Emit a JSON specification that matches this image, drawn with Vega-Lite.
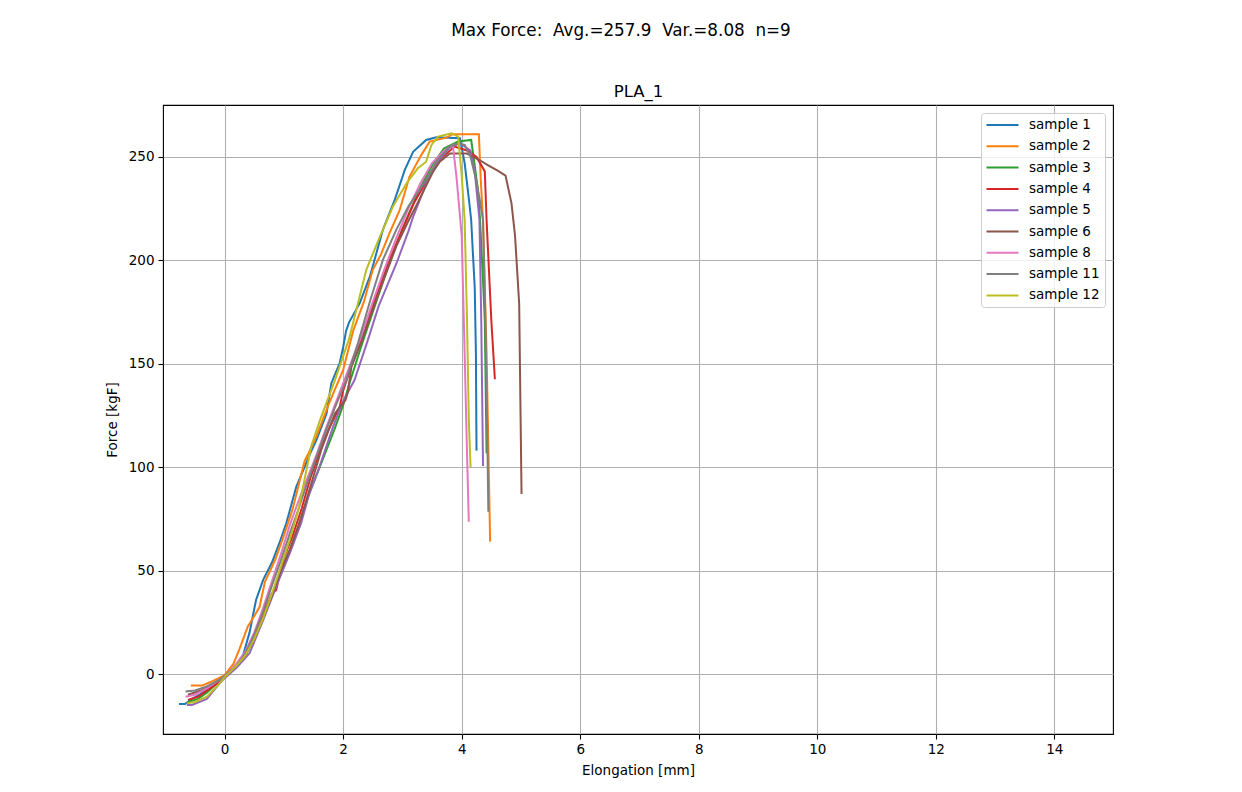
{
  "$schema": "https://vega.github.io/schema/vega-lite/v6.json",
  "width": 950,
  "height": 629,
  "autosize": {"type": "none"},
  "padding": {"left": 163, "top": 105, "right": 129, "bottom": 58},
  "background": "white",
  "config": {
    "font": "DejaVu Sans",
    "view": {"stroke": "black", "strokeWidth": 1.1},
    "axis": {
      "labelFont": "DejaVu Sans", "titleFont": "DejaVu Sans",
      "labelFontSize": 13.5, "titleFontSize": 13.5, "titleFontWeight": "normal",
      "labelColor": "black", "titleColor": "black",
      "tickColor": "black", "tickSize": 5, "tickWidth": 1.1,
      "gridColor": "#b0b0b0", "gridWidth": 1.1, "gridOpacity": 1,
      "domain": false
    }
  },
  "title": {
    "text": "Max Force:\u00a0 Avg.=257.9\u00a0 Var.=8.08\u00a0 n=9",
    "fontSize": 16.8, "font": "DejaVu Sans", "fontWeight": "normal", "color": "black",
    "anchor": "middle", "dx": -17, "offset": 43
  },
  "data": {"values": [
    {"s":"sample 1","x":-0.77,"y":-14.5},{"s":"sample 1","x":-0.67,"y":-14.5},{"s":"sample 1","x":-0.55,"y":-12},{"s":"sample 1","x":-0.42,"y":-10},{"s":"sample 1","x":-0.25,"y":-6},{"s":"sample 1","x":-0.1,"y":-3},{"s":"sample 1","x":0,"y":-1},{"s":"sample 1","x":0.15,"y":3},{"s":"sample 1","x":0.3,"y":8},{"s":"sample 1","x":0.42,"y":20},{"s":"sample 1","x":0.53,"y":35.8},{"s":"sample 1","x":0.65,"y":45.5},{"s":"sample 1","x":0.8,"y":54},{"s":"sample 1","x":0.92,"y":63},{"s":"sample 1","x":1.04,"y":72.9},{"s":"sample 1","x":1.21,"y":90.6},{"s":"sample 1","x":1.35,"y":100.2},{"s":"sample 1","x":1.45,"y":107},{"s":"sample 1","x":1.55,"y":113.2},{"s":"sample 1","x":1.72,"y":126},{"s":"sample 1","x":1.8,"y":140.6},{"s":"sample 1","x":1.94,"y":150.2},{"s":"sample 1","x":2.0,"y":158},{"s":"sample 1","x":2.05,"y":166},{"s":"sample 1","x":2.1,"y":170},{"s":"sample 1","x":2.28,"y":179.3},{"s":"sample 1","x":2.45,"y":192.1},{"s":"sample 1","x":2.67,"y":214.7},{"s":"sample 1","x":2.87,"y":229.2},{"s":"sample 1","x":3.04,"y":243.7},{"s":"sample 1","x":3.18,"y":252.5},{"s":"sample 1","x":3.4,"y":258.2},{"s":"sample 1","x":3.57,"y":259.5},{"s":"sample 1","x":3.97,"y":259},{"s":"sample 1","x":4.05,"y":247},{"s":"sample 1","x":4.12,"y":230},{"s":"sample 1","x":4.16,"y":219.5},{"s":"sample 1","x":4.19,"y":203},{"s":"sample 1","x":4.22,"y":187},{"s":"sample 1","x":4.24,"y":155},{"s":"sample 1","x":4.25,"y":108},
    {"s":"sample 2","x":-0.57,"y":-5.6},{"s":"sample 2","x":-0.38,"y":-5.6},{"s":"sample 2","x":-0.25,"y":-4},{"s":"sample 2","x":-0.1,"y":-2},{"s":"sample 2","x":0,"y":-0.5},{"s":"sample 2","x":0.15,"y":5},{"s":"sample 2","x":0.25,"y":12},{"s":"sample 2","x":0.39,"y":22.9},{"s":"sample 2","x":0.5,"y":28},{"s":"sample 2","x":0.59,"y":32.5},{"s":"sample 2","x":0.68,"y":44.6},{"s":"sample 2","x":0.85,"y":55},{"s":"sample 2","x":1.0,"y":67},{"s":"sample 2","x":1.15,"y":80},{"s":"sample 2","x":1.35,"y":103},{"s":"sample 2","x":1.42,"y":107},{"s":"sample 2","x":1.55,"y":115},{"s":"sample 2","x":1.75,"y":130},{"s":"sample 2","x":2.0,"y":147},{"s":"sample 2","x":2.17,"y":166},{"s":"sample 2","x":2.35,"y":180},{"s":"sample 2","x":2.5,"y":195.4},{"s":"sample 2","x":2.64,"y":203},{"s":"sample 2","x":2.78,"y":213},{"s":"sample 2","x":2.95,"y":224},{"s":"sample 2","x":3.12,"y":240.5},{"s":"sample 2","x":3.32,"y":251},{"s":"sample 2","x":3.46,"y":257.4},{"s":"sample 2","x":3.74,"y":259.3},{"s":"sample 2","x":3.85,"y":261},{"s":"sample 2","x":4.29,"y":261},{"s":"sample 2","x":4.32,"y":240},{"s":"sample 2","x":4.36,"y":219.5},{"s":"sample 2","x":4.42,"y":155},{"s":"sample 2","x":4.48,"y":64},
    {"s":"sample 3","x":-0.62,"y":-13.5},{"s":"sample 3","x":-0.45,"y":-12},{"s":"sample 3","x":-0.3,"y":-9},{"s":"sample 3","x":-0.15,"y":-5},{"s":"sample 3","x":0,"y":-1.5},{"s":"sample 3","x":0.2,"y":4},{"s":"sample 3","x":0.35,"y":9},{"s":"sample 3","x":0.5,"y":17},{"s":"sample 3","x":0.65,"y":28},{"s":"sample 3","x":0.8,"y":38},{"s":"sample 3","x":0.95,"y":50},{"s":"sample 3","x":1.1,"y":60},{"s":"sample 3","x":1.25,"y":72},{"s":"sample 3","x":1.4,"y":85},{"s":"sample 3","x":1.55,"y":96},{"s":"sample 3","x":1.7,"y":107},{"s":"sample 3","x":1.85,"y":118},{"s":"sample 3","x":2.0,"y":130},{"s":"sample 3","x":2.1,"y":140},{"s":"sample 3","x":2.3,"y":158},{"s":"sample 3","x":2.5,"y":175},{"s":"sample 3","x":2.7,"y":192},{"s":"sample 3","x":2.9,"y":208},{"s":"sample 3","x":3.1,"y":222},{"s":"sample 3","x":3.3,"y":235},{"s":"sample 3","x":3.5,"y":246},{"s":"sample 3","x":3.7,"y":254},{"s":"sample 3","x":3.94,"y":257.5},{"s":"sample 3","x":4.16,"y":258.2},{"s":"sample 3","x":4.2,"y":250},{"s":"sample 3","x":4.27,"y":235},{"s":"sample 3","x":4.31,"y":219.5},{"s":"sample 3","x":4.36,"y":190},{"s":"sample 3","x":4.39,"y":171},{"s":"sample 3","x":4.42,"y":106.7},
    {"s":"sample 4","x":-0.62,"y":-12.5},{"s":"sample 4","x":-0.45,"y":-11},{"s":"sample 4","x":-0.3,"y":-8},{"s":"sample 4","x":-0.15,"y":-5},{"s":"sample 4","x":0,"y":-1.5},{"s":"sample 4","x":0.2,"y":4},{"s":"sample 4","x":0.35,"y":9},{"s":"sample 4","x":0.5,"y":18},{"s":"sample 4","x":0.65,"y":29},{"s":"sample 4","x":0.8,"y":39},{"s":"sample 4","x":0.87,"y":40.5},{"s":"sample 4","x":0.92,"y":47},{"s":"sample 4","x":1.0,"y":56},{"s":"sample 4","x":1.15,"y":67},{"s":"sample 4","x":1.3,"y":80},{"s":"sample 4","x":1.45,"y":95},{"s":"sample 4","x":1.6,"y":107},{"s":"sample 4","x":1.75,"y":118},{"s":"sample 4","x":1.94,"y":129},{"s":"sample 4","x":2.0,"y":137},{"s":"sample 4","x":2.15,"y":150},{"s":"sample 4","x":2.35,"y":165},{"s":"sample 4","x":2.55,"y":182},{"s":"sample 4","x":2.78,"y":200},{"s":"sample 4","x":3.0,"y":215},{"s":"sample 4","x":3.2,"y":228},{"s":"sample 4","x":3.4,"y":238},{"s":"sample 4","x":3.6,"y":248},{"s":"sample 4","x":3.88,"y":255},{"s":"sample 4","x":4.1,"y":253},{"s":"sample 4","x":4.25,"y":250},{"s":"sample 4","x":4.39,"y":243},{"s":"sample 4","x":4.42,"y":219.5},{"s":"sample 4","x":4.5,"y":171},{"s":"sample 4","x":4.56,"y":142.5},
    {"s":"sample 5","x":-0.64,"y":-15},{"s":"sample 5","x":-0.55,"y":-15},{"s":"sample 5","x":-0.3,"y":-12},{"s":"sample 5","x":-0.1,"y":-5},{"s":"sample 5","x":0,"y":-2},{"s":"sample 5","x":0.2,"y":3},{"s":"sample 5","x":0.42,"y":10},{"s":"sample 5","x":0.65,"y":26},{"s":"sample 5","x":0.87,"y":42.2},{"s":"sample 5","x":1.1,"y":58.4},{"s":"sample 5","x":1.29,"y":72.9},{"s":"sample 5","x":1.43,"y":87.4},{"s":"sample 5","x":1.6,"y":100.2},{"s":"sample 5","x":1.83,"y":119.6},{"s":"sample 5","x":2.0,"y":132},{"s":"sample 5","x":2.19,"y":142},{"s":"sample 5","x":2.4,"y":160},{"s":"sample 5","x":2.6,"y":178},{"s":"sample 5","x":2.9,"y":198.6},{"s":"sample 5","x":3.1,"y":214},{"s":"sample 5","x":3.18,"y":221},{"s":"sample 5","x":3.4,"y":237},{"s":"sample 5","x":3.6,"y":248},{"s":"sample 5","x":3.8,"y":254.5},{"s":"sample 5","x":3.97,"y":256.6},{"s":"sample 5","x":4.15,"y":253},{"s":"sample 5","x":4.22,"y":243},{"s":"sample 5","x":4.3,"y":219.5},{"s":"sample 5","x":4.33,"y":171},{"s":"sample 5","x":4.36,"y":100.6},
    {"s":"sample 6","x":-0.62,"y":-10},{"s":"sample 6","x":-0.4,"y":-8},{"s":"sample 6","x":-0.2,"y":-5},{"s":"sample 6","x":0,"y":-1.5},{"s":"sample 6","x":0.2,"y":4},{"s":"sample 6","x":0.35,"y":9},{"s":"sample 6","x":0.5,"y":17},{"s":"sample 6","x":0.65,"y":27},{"s":"sample 6","x":0.8,"y":38},{"s":"sample 6","x":0.95,"y":50},{"s":"sample 6","x":1.1,"y":60},{"s":"sample 6","x":1.25,"y":72},{"s":"sample 6","x":1.4,"y":86},{"s":"sample 6","x":1.63,"y":108.3},{"s":"sample 6","x":1.86,"y":126},{"s":"sample 6","x":2.04,"y":132.5},{"s":"sample 6","x":2.08,"y":136.5},{"s":"sample 6","x":2.14,"y":148.6},{"s":"sample 6","x":2.3,"y":160},{"s":"sample 6","x":2.5,"y":176},{"s":"sample 6","x":2.7,"y":192},{"s":"sample 6","x":2.9,"y":207},{"s":"sample 6","x":3.1,"y":219},{"s":"sample 6","x":3.24,"y":226.8},{"s":"sample 6","x":3.52,"y":243},{"s":"sample 6","x":3.63,"y":247.7},{"s":"sample 6","x":3.8,"y":251.7},{"s":"sample 6","x":4.08,"y":251.7},{"s":"sample 6","x":4.3,"y":248.5},{"s":"sample 6","x":4.44,"y":246},{"s":"sample 6","x":4.6,"y":243.5},{"s":"sample 6","x":4.74,"y":241},{"s":"sample 6","x":4.84,"y":227.6},{"s":"sample 6","x":4.9,"y":212},{"s":"sample 6","x":4.97,"y":179},{"s":"sample 6","x":5.01,"y":87},
    {"s":"sample 8","x":-0.66,"y":-11},{"s":"sample 8","x":-0.5,"y":-10},{"s":"sample 8","x":-0.3,"y":-7},{"s":"sample 8","x":-0.1,"y":-3},{"s":"sample 8","x":0,"y":-1},{"s":"sample 8","x":0.2,"y":5},{"s":"sample 8","x":0.35,"y":11},{"s":"sample 8","x":0.5,"y":20},{"s":"sample 8","x":0.65,"y":32},{"s":"sample 8","x":0.8,"y":45},{"s":"sample 8","x":0.95,"y":58},{"s":"sample 8","x":1.1,"y":72},{"s":"sample 8","x":1.25,"y":84},{"s":"sample 8","x":1.4,"y":95},{"s":"sample 8","x":1.55,"y":106},{"s":"sample 8","x":1.7,"y":118},{"s":"sample 8","x":1.9,"y":133},{"s":"sample 8","x":2.1,"y":148},{"s":"sample 8","x":2.3,"y":163},{"s":"sample 8","x":2.5,"y":180},{"s":"sample 8","x":2.7,"y":196},{"s":"sample 8","x":2.9,"y":211},{"s":"sample 8","x":3.1,"y":225},{"s":"sample 8","x":3.3,"y":237},{"s":"sample 8","x":3.5,"y":247},{"s":"sample 8","x":3.7,"y":253},{"s":"sample 8","x":3.85,"y":255.8},{"s":"sample 8","x":3.91,"y":241},{"s":"sample 8","x":3.96,"y":225},{"s":"sample 8","x":4.0,"y":212},{"s":"sample 8","x":4.05,"y":155},{"s":"sample 8","x":4.09,"y":106.7},{"s":"sample 8","x":4.12,"y":73.6},
    {"s":"sample 11","x":-0.66,"y":-8.5},{"s":"sample 11","x":-0.5,"y":-8},{"s":"sample 11","x":-0.3,"y":-6},{"s":"sample 11","x":-0.1,"y":-3},{"s":"sample 11","x":0,"y":-1},{"s":"sample 11","x":0.2,"y":4},{"s":"sample 11","x":0.35,"y":10},{"s":"sample 11","x":0.5,"y":19},{"s":"sample 11","x":0.65,"y":30},{"s":"sample 11","x":0.8,"y":43},{"s":"sample 11","x":0.95,"y":55},{"s":"sample 11","x":1.1,"y":68},{"s":"sample 11","x":1.25,"y":80},{"s":"sample 11","x":1.4,"y":93},{"s":"sample 11","x":1.55,"y":105},{"s":"sample 11","x":1.7,"y":117},{"s":"sample 11","x":1.85,"y":128},{"s":"sample 11","x":2.05,"y":142},{"s":"sample 11","x":2.25,"y":160},{"s":"sample 11","x":2.45,"y":180},{"s":"sample 11","x":2.67,"y":200.2},{"s":"sample 11","x":2.9,"y":215},{"s":"sample 11","x":3.1,"y":226},{"s":"sample 11","x":3.4,"y":238.9},{"s":"sample 11","x":3.6,"y":249},{"s":"sample 11","x":3.8,"y":255},{"s":"sample 11","x":3.94,"y":256.6},{"s":"sample 11","x":4.05,"y":255.8},{"s":"sample 11","x":4.15,"y":250},{"s":"sample 11","x":4.25,"y":238},{"s":"sample 11","x":4.3,"y":230},{"s":"sample 11","x":4.36,"y":219.5},{"s":"sample 11","x":4.4,"y":171},{"s":"sample 11","x":4.43,"y":120},{"s":"sample 11","x":4.45,"y":78.5},
    {"s":"sample 12","x":-0.64,"y":-14.2},{"s":"sample 12","x":-0.5,"y":-13.5},{"s":"sample 12","x":-0.3,"y":-11},{"s":"sample 12","x":-0.1,"y":-5},{"s":"sample 12","x":0,"y":-1.5},{"s":"sample 12","x":0.2,"y":4},{"s":"sample 12","x":0.35,"y":9},{"s":"sample 12","x":0.5,"y":17},{"s":"sample 12","x":0.65,"y":27},{"s":"sample 12","x":0.8,"y":39},{"s":"sample 12","x":0.95,"y":52},{"s":"sample 12","x":1.1,"y":65},{"s":"sample 12","x":1.25,"y":80},{"s":"sample 12","x":1.46,"y":110},{"s":"sample 12","x":1.6,"y":122},{"s":"sample 12","x":1.86,"y":142},{"s":"sample 12","x":2.1,"y":162},{"s":"sample 12","x":2.39,"y":195.4},{"s":"sample 12","x":2.62,"y":211.5},{"s":"sample 12","x":2.84,"y":226},{"s":"sample 12","x":3.07,"y":237.3},{"s":"sample 12","x":3.26,"y":244.5},{"s":"sample 12","x":3.4,"y":247.7},{"s":"sample 12","x":3.49,"y":255.8},{"s":"sample 12","x":3.6,"y":259.8},{"s":"sample 12","x":3.83,"y":261.4},{"s":"sample 12","x":3.94,"y":259.8},{"s":"sample 12","x":4.0,"y":241},{"s":"sample 12","x":4.05,"y":219.5},{"s":"sample 12","x":4.09,"y":171},{"s":"sample 12","x":4.12,"y":123},{"s":"sample 12","x":4.15,"y":100}
  ]},
  "layer": [
    {
      "mark": {"type": "line", "strokeWidth": 2, "interpolate": "linear"},
      "encoding": {
        "x": {"field": "x", "type": "quantitative",
          "scale": {"domain": [-1.04, 14.99], "nice": false, "zero": false},
          "axis": {"orient": "bottom", "values": [0,2,4,6,8,10,12,14], "title": "Elongation [mm]", "labelPadding": 3, "titlePadding": 8, "grid": true}},
        "y": {"field": "y", "type": "quantitative",
          "scale": {"domain": [-29, 275.1], "nice": false, "zero": false},
          "axis": {"values": [0,50,100,150,200,250], "title": "Force [kgF]", "labelPadding": 4, "titlePadding": 9, "grid": true}},
        "color": {"field": "s", "type": "nominal",
          "scale": {"domain": ["sample 1","sample 2","sample 3","sample 4","sample 5","sample 6","sample 8","sample 11","sample 12"],
                    "range": ["#1f77b4","#ff7f0e","#2ca02c","#d62728","#9467bd","#8c564b","#e377c2","#7f7f7f","#bcbd22"]},
          "legend": {"title": null, "orient": "top-right", "offset": 8, "padding": 5,
            "symbolType": "M-1.08,0H4.25", "symbolSize": 144, "symbolStrokeWidth": 2,
            "labelOffset": 29, "labelFontSize": 13.5, "labelFont": "DejaVu Sans", "labelColor": "black",
            "rowPadding": 7.3, "strokeColor": "#cccccc", "fillColor": "rgba(255,255,255,0.8)", "cornerRadius": 3}}
      }
    },
    {
      "mark": {"type": "rule", "opacity": 0},
      "encoding": {
        "x": {"field": "x", "type": "quantitative",
          "axis": {"orient": "top", "title": "PLA_1", "titleFontSize": 16.5, "labels": false, "ticks": false, "grid": false, "domain": false, "titlePadding": 6}}
      }
    }
  ],
  "resolve": {"axis": {"x": "independent"}}
}
